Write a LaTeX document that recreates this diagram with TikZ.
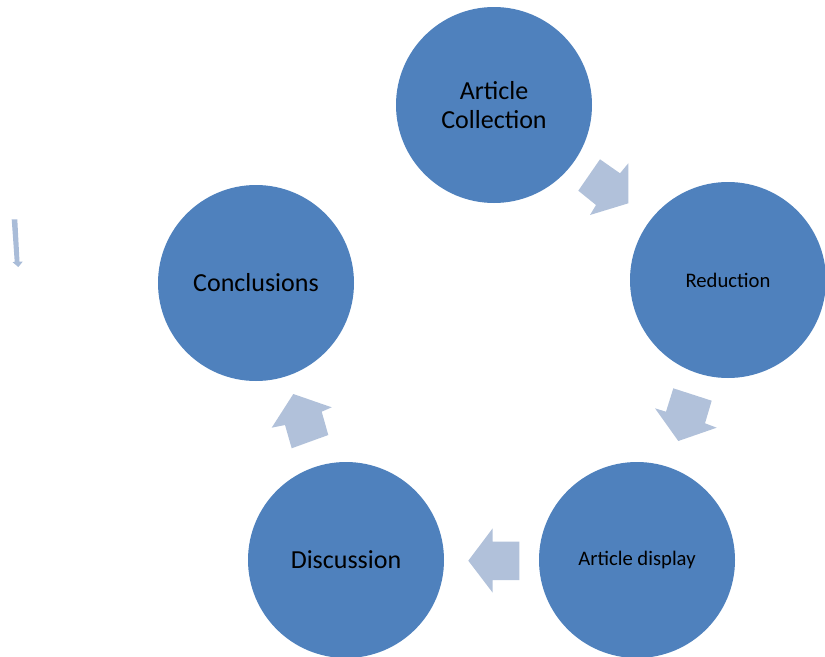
\documentclass[tikz,border=0pt]{standalone}
\usepackage{fontspec}
\setmainfont{Carlito}
\definecolor{circblue}{HTML}{4F81BD}
\definecolor{arrowblue}{HTML}{B1C1DA}
\definecolor{smallarrow}{HTML}{A9BCD8}
\begin{document}
\begin{tikzpicture}[x=0.75pt,y=-0.75pt,
  stagecirc/.style={circle,fill=circblue,draw=none,minimum size=147pt,inner sep=0pt,align=center,text=black},
  bigtext/.style={font=\fontsize{19.5}{22}\selectfont},
  smalltext/.style={font=\fontsize{15.5}{18}\selectfont},
  blockarrow/.style={fill=arrowblue,draw=none}]
\useasboundingbox (0,0) rectangle (825,657);
\clip (0,0) rectangle (825,657);
\node[stagecirc,bigtext] (collect) at (494,105) {Article\\Collection};
\node[stagecirc,smalltext] (reduce) at (728,280) {Reduction};
\node[stagecirc,smalltext] (display) at (637,560) {Article display};
\node[stagecirc,bigtext] (discuss) at (346,560) {Discussion};
\node[stagecirc,bigtext] (conclude) at (256,283) {Conclusions};
% block arrows
\fill[blockarrow] (578.3,190.7) -- (600,159.3) -- (620,173.3) -- (628.3,163.3) -- (628.3,203.3) -- (590,215) -- (596,205) -- cycle;
\fill[blockarrow] (673.3,388.3) -- (711.7,400.7) -- (705,423.3) -- (716.7,427.7) -- (678.3,441) -- (655,408.3) -- (666,411.7) -- cycle;
\fill[blockarrow] (492.7,528.3) -- (492.7,541.7) -- (519.3,541.7) -- (519.3,580) -- (492.7,580) -- (492.7,592.7) -- (468.3,560.7) -- cycle;
\fill[blockarrow] (293.3,394) -- (331.7,407.3) -- (321.7,411.7) -- (328.3,435) -- (291.7,448.3) -- (285,425) -- (271.7,427.7) -- cycle;
\fill[smallarrow] (11.7,219.3) -- (17.3,219.3) -- (19.5,261.7) -- (22.7,261.7) -- (18.3,267) -- (12.7,262.3) -- (14.7,261.7) -- cycle;
\end{tikzpicture}
\end{document}
